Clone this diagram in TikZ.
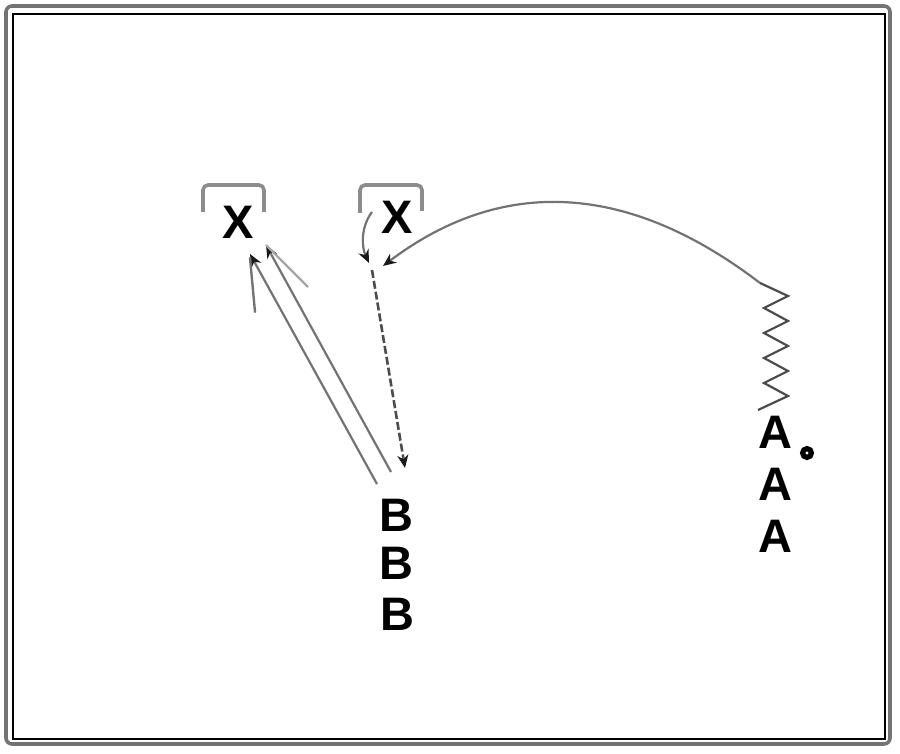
\documentclass[tikz,border=0pt]{standalone}
\usepackage{fontspec}
\setmainfont{Liberation Sans}
\usetikzlibrary{arrows.meta}
\begin{document}
\begin{tikzpicture}[x=0.5pt,y=-0.5pt,
  lbl/.style={font=\fontsize{23.5}{28}\selectfont\bfseries, inner sep=0pt, text height=16.8pt, text depth=0pt},
  tip/.style={-{Stealth[length=6.5pt,width=5.5pt,color=black!90]}},
  conn/.style={draw=black!55, line width=1.1pt, tip},
  brk/.style={draw=black!45, line width=1.8pt, rounded corners=2.5pt},
  spring/.style={draw=black!70, line width=1.1pt, line join=miter},
]
\useasboundingbox (0,0) rectangle (900,754);
% frame
\draw[black!55, line width=1.8pt, rounded corners=3pt] (6,6) rectangle (890,744);
\draw[black, line width=0.6pt] (13,14) rectangle (885,739);

% labels
\node[lbl] (x1) at (238,222) {X};
\node[lbl] (x2) at (397,217) {X};
\node[lbl] (b1) at (396,515) {B};
\node[lbl] (b2) at (396,563) {B};
\node[lbl] (b3) at (397,614) {B};
\node[lbl] (a1) at (775,432) {A};
\node[lbl] (a2) at (775,484) {A};
\node[lbl] (a3) at (775,536) {A};
\node[circle, draw, line width=2.6pt, inner sep=0pt, minimum size=4.4pt] (o) at (807,453) {};

% brackets
\draw[brk] (203,212) -- (203,185) -- (264,185) -- (264,212);
\draw[brk] (360,213) -- (360,185) -- (422,185) -- (422,211);

% connector ends
\coordinate (p1s) at (377,484);
\coordinate (p1e) at (250,254);
\coordinate (p2s) at (391,472);
\coordinate (p2e) at (266,245);
\coordinate (p3s) at (308,287);
\coordinate (p4s) at (250,258);
\coordinate (p4e) at (255,312);
\coordinate (q1s) at (372,212);
\coordinate (q1e) at (369,263);
\coordinate (q2s) at (372,270);
\coordinate (q2e) at (405,468);
\coordinate (q3e) at (383,266);
\coordinate (s0) at (760,283);
\coordinate (s1) at (758,410);

% connectors to left X
\draw[conn] (p1s) -- (p1e);
\draw[conn] (p2s) -- (p2e);
\draw[draw=black!35, line width=1.1pt] (p3s) -- (p2e);
\draw[draw=black!55, line width=1.2pt, line cap=round] (p4s) -- (p4e);

% connectors at right X
\draw[conn] (q1s) .. controls (360,228) and (362,248) .. (q1e);
\draw[conn, draw=black!70, line width=1.3pt, dash pattern=on 4pt off 1.5pt] (q2s) -- (q2e);
\draw[conn] (s0) .. controls (628,182) and (502,176) .. (q3e);

% spring
\draw[spring] (s0) -- (788,296) -- (764,308) -- (788,321) -- (764,333) -- (788,346)
  -- (764,358) -- (788,371) -- (764,383) -- (788,396) -- (s1);
\end{tikzpicture}
\end{document}
